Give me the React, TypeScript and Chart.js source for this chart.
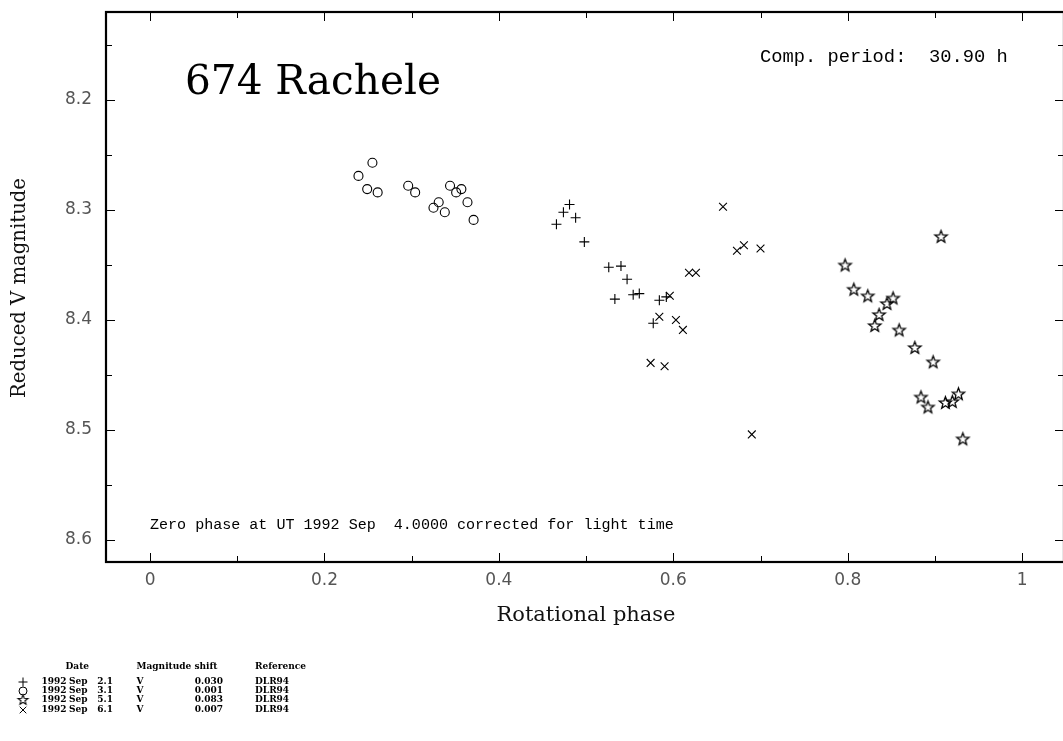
import React, { useEffect, useRef } from "react";
import { Chart, registerables } from "chart.js";

Chart.register(...registerables);

// ---- Data ----
const plusPhase = [0.466, 0.474, 0.481, 0.488, 0.498, 0.526, 0.540, 0.547, 0.533, 0.554, 0.561, 0.584, 0.592, 0.577];
const plusMag = [8.313, 8.302, 8.295, 8.307, 8.329, 8.352, 8.351, 8.363, 8.381, 8.377, 8.376, 8.382, 8.379, 8.403];

const circlePhase = [0.239, 0.255, 0.249, 0.261, 0.296, 0.304, 0.325, 0.331, 0.338, 0.344, 0.351, 0.357, 0.364, 0.371];
const circleMag = [8.269, 8.257, 8.281, 8.284, 8.278, 8.284, 8.298, 8.293, 8.302, 8.278, 8.284, 8.281, 8.293, 8.309];

const starPhase = [0.907, 0.797, 0.807, 0.823, 0.852, 0.845, 0.836, 0.831, 0.859, 0.877, 0.898, 0.884, 0.892, 0.912, 0.920, 0.927, 0.932];
const starMag = [8.324, 8.350, 8.372, 8.378, 8.380, 8.385, 8.395, 8.405, 8.409, 8.425, 8.438, 8.470, 8.479, 8.475, 8.474, 8.467, 8.508];

const crossPhase = [0.657, 0.673, 0.681, 0.700, 0.618, 0.626, 0.596, 0.584, 0.603, 0.611, 0.574, 0.590, 0.690];
const crossMag = [8.297, 8.337, 8.332, 8.335, 8.357, 8.357, 8.378, 8.397, 8.400, 8.409, 8.439, 8.442, 8.504];

const xTicks = [0, 0.2, 0.4, 0.6, 0.8, 1];
const xMinorTicks = [0.1, 0.3, 0.5, 0.7, 0.9];
const yTicks = [8.2, 8.3, 8.4, 8.5, 8.6];
const yMinorTicks = [8.15, 8.25, 8.35, 8.45, 8.55];

const titleText = "674 Rachele";
const periodText = "Comp. period:  30.90 h";
const zeroPhaseText = "Zero phase at UT 1992 Sep  4.0000 corrected for light time";
const xTitle = "Rotational phase";
const yTitle = "Reduced V magnitude";

const legendHeaders = ["Date", "Magnitude shift", "Reference"];
const legendSymbols = ["plus", "circle", "star", "cross"];
const legendDays = ["2.1", "3.1", "5.1", "6.1"];
const legendFilters = ["V", "V", "V", "V"];
const legendShifts = ["0.030", "0.001", "0.083", "0.007"];
const legendRefs = ["DLR94", "DLR94", "DLR94", "DLR94"];

const W = 1071;
const H = 741;

function makeStar(size: number, outer: number, inner: number, lw: number) {
  const c = document.createElement("canvas");
  c.width = size;
  c.height = size;
  const g = c.getContext("2d")!;
  g.beginPath();
  for (let i = 0; i < 10; i++) {
    const r = i % 2 ? inner : outer;
    const ang = -Math.PI / 2 + (i * Math.PI) / 5;
    const x = size / 2 + r * Math.cos(ang);
    const y = size / 2 + 0.6 + r * Math.sin(ang);
    if (i === 0) g.moveTo(x, y);
    else g.lineTo(x, y);
  }
  g.closePath();
  g.strokeStyle = "#000";
  g.lineWidth = lw;
  g.lineJoin = "miter";
  g.stroke();
  return c;
}

function fitFont(ctx: CanvasRenderingContext2D, text: string, family: string, width: number, weight = "normal") {
  ctx.font = `${weight} 100px ${family}`;
  const w = ctx.measureText(text).width;
  return (100 * width) / w;
}

const SERIF = "'DejaVu Serif', 'Liberation Serif', serif";
const MONO = "'Liberation Mono', 'DejaVu Sans Mono', monospace";

export default function App() {
  const ref = useRef<HTMLCanvasElement>(null);

  useEffect(() => {
    const canvas = ref.current!;
    const starImg = makeStar(17, 6.4, 2.7, 1.3);
    const starSmall = makeStar(15, 5.2, 2.2, 1.1);

    const framePlugin = {
      id: "framePlugin",
      afterDraw(chart: any) {
        const { ctx, chartArea: a, scales } = chart;
        const xs = scales.x;
        const ys = scales.y;
        ctx.save();
        ctx.strokeStyle = "#000";
        ctx.lineWidth = 1;
        const line = (x1: number, y1: number, x2: number, y2: number) => {
          ctx.beginPath();
          ctx.moveTo(x1, y1);
          ctx.lineTo(x2, y2);
          ctx.stroke();
        };
        for (const v of xTicks) {
          const px = Math.round(xs.getPixelForValue(v)) + 0.5;
          line(px, a.bottom, px, a.bottom - 9);
          line(px, a.top, px, a.top + 9);
        }
        for (const v of xMinorTicks) {
          const px = Math.round(xs.getPixelForValue(v)) + 0.5;
          line(px, a.bottom, px, a.bottom - 6);
          line(px, a.top, px, a.top + 6);
        }
        for (const v of yTicks) {
          const py = Math.round(ys.getPixelForValue(v)) + 0.5;
          line(a.left, py, a.left + 9, py);
          line(a.right, py, a.right - 9, py);
        }
        for (const v of yMinorTicks) {
          const py = Math.round(ys.getPixelForValue(v)) + 0.5;
          line(a.left, py, a.left + 6, py);
          line(a.right, py, a.right - 6, py);
        }
        ctx.lineWidth = 2.2;
        ctx.strokeRect(a.left, a.top, a.right - a.left, a.bottom - a.top);

        // texts
        ctx.fillStyle = "#000";
        ctx.textBaseline = "middle";
        ctx.textAlign = "left";
        let s = fitFont(ctx, titleText, SERIF, 256);
        ctx.font = `normal ${s}px ${SERIF}`;
        ctx.fillText(titleText, 185, 83);

        s = fitFont(ctx, periodText, MONO, 248);
        ctx.font = `normal ${s}px ${MONO}`;
        ctx.fillText(periodText, 760, 57);

        s = fitFont(ctx, zeroPhaseText, MONO, 524);
        ctx.font = `normal ${s}px ${MONO}`;
        ctx.fillText(zeroPhaseText, 150, 525);

        ctx.fillStyle = "#111";
        ctx.textAlign = "center";
        s = fitFont(ctx, xTitle, SERIF, 179);
        ctx.font = `normal ${s}px ${SERIF}`;
        ctx.fillText(xTitle, 586, 616);

        ctx.save();
        ctx.translate(20, 288);
        ctx.rotate(-Math.PI / 2);
        s = fitFont(ctx, yTitle, SERIF, 220);
        ctx.font = `normal ${s}px ${SERIF}`;
        ctx.fillText(yTitle, 0, 0);
        ctx.restore();

        // legend
        ctx.fillStyle = "#000";
        ctx.font = `bold 9px ${SERIF}`;
        ctx.textAlign = "left";
        ctx.fillText(legendHeaders[0], 65.5, 667);
        ctx.fillText(legendHeaders[1], 136.5, 667);
        ctx.fillText(legendHeaders[2], 255, 667);
        const rowY = [682, 691, 700, 710];
        for (let i = 0; i < 4; i++) {
          const y = rowY[i];
          ctx.textAlign = "left";
          ctx.fillText("1992", 41.5, y);
          ctx.fillText("Sep", 69, y);
          ctx.textAlign = "right";
          ctx.fillText(legendDays[i], 113, y);
          ctx.textAlign = "left";
          ctx.fillText(legendFilters[i], 136.5, y);
          ctx.textAlign = "right";
          ctx.fillText(legendShifts[i], 223, y);
          ctx.textAlign = "left";
          ctx.fillText(legendRefs[i], 255, y);
          // symbol
          const cx = 23;
          ctx.lineWidth = 1;
          const sym = legendSymbols[i];
          if (sym === "plus") {
            line(cx - 4.5, y, cx + 4.5, y);
            line(cx, y - 4.5, cx, y + 4.5);
          } else if (sym === "circle") {
            ctx.beginPath();
            ctx.arc(cx, y, 4, 0, Math.PI * 2);
            ctx.stroke();
          } else if (sym === "star") {
            ctx.drawImage(starSmall, cx - 7.5, y - 8);
          } else {
            line(cx - 3.3, y - 3.3, cx + 3.3, y + 3.3);
            line(cx - 3.3, y + 3.3, cx + 3.3, y - 3.3);
          }
        }
        ctx.restore();
      },
    };

    const toPts = (xs: number[], ys: number[]) => xs.map((x, i) => ({ x, y: ys[i] }));

    const tickFont = { family: "'DejaVu Sans', 'Liberation Sans', sans-serif", size: 17 };

    const chart = new Chart(canvas, {
      type: "scatter",
      data: {
        datasets: [
          {
            label: "1992 Sep 2.1",
            data: toPts(plusPhase, plusMag),
            pointStyle: "cross",
            pointRadius: 5,
            borderColor: "#000",
            backgroundColor: "#000",
            borderWidth: 1.1,
          },
          {
            label: "1992 Sep 3.1",
            data: toPts(circlePhase, circleMag),
            pointStyle: "circle",
            pointRadius: 4.5,
            borderColor: "#000",
            backgroundColor: "rgba(0,0,0,0)",
            borderWidth: 1.1,
          },
          {
            label: "1992 Sep 5.1",
            data: toPts(starPhase, starMag),
            pointStyle: starImg as any,
            pointRadius: 6,
            borderColor: "#000",
            backgroundColor: "rgba(0,0,0,0)",
          },
          {
            label: "1992 Sep 6.1",
            data: toPts(crossPhase, crossMag),
            pointStyle: "crossRot",
            pointRadius: 5.5,
            borderColor: "#000",
            backgroundColor: "#000",
            borderWidth: 1.1,
          },
        ],
      },
      options: {
        animation: false,
        responsive: false,
        maintainAspectRatio: false,
        devicePixelRatio: 1,
        layout: { padding: { top: 12, right: 4, left: 0, bottom: 0 } },
        plugins: {
          legend: { display: false },
          tooltip: { enabled: false },
        },
        scales: {
          x: {
            type: "linear",
            min: -0.0505,
            max: 1.048,
            grid: { display: false, drawTicks: false },
            border: { display: false },
            afterBuildTicks: (scale: any) => {
              scale.ticks = xTicks.map((v) => ({ value: v }));
            },
            afterFit: (scale: any) => {
              scale.height = H - 562;
              scale.paddingLeft = 0;
              scale.paddingRight = 0;
              scale.paddingTop = 0;
              scale.paddingBottom = 0;
            },
            ticks: {
              padding: 8,
              color: "#555",
              font: tickFont,
              maxRotation: 0,
              autoSkip: false,
              callback: (v: any) => String(Number(v)),
            },
          },
          y: {
            type: "linear",
            reverse: true,
            min: 8.12,
            max: 8.62,
            grid: { display: false, drawTicks: false },
            border: { display: false },
            afterBuildTicks: (scale: any) => {
              scale.ticks = yTicks.map((v) => ({ value: v }));
            },
            afterFit: (scale: any) => {
              scale.width = 106;
              scale.paddingLeft = 0;
              scale.paddingRight = 0;
              scale.paddingTop = 0;
              scale.paddingBottom = 0;
            },
            ticks: {
              padding: 14,
              color: "#555",
              font: tickFont,
              autoSkip: false,
              callback: (v: any) => Number(v).toFixed(1),
            },
          },
        },
      },
      plugins: [framePlugin],
    });

    return () => {
      chart.destroy();
    };
  }, []);

  return (
    <div
      style={{
        position: "fixed",
        left: 0,
        top: 0,
        width: 1063,
        height: H,
        overflow: "hidden",
        background: "#fff",
      }}
    >
      <canvas ref={ref} width={W} height={H} style={{ width: W, height: H, display: "block" }} />
    </div>
  );
}
